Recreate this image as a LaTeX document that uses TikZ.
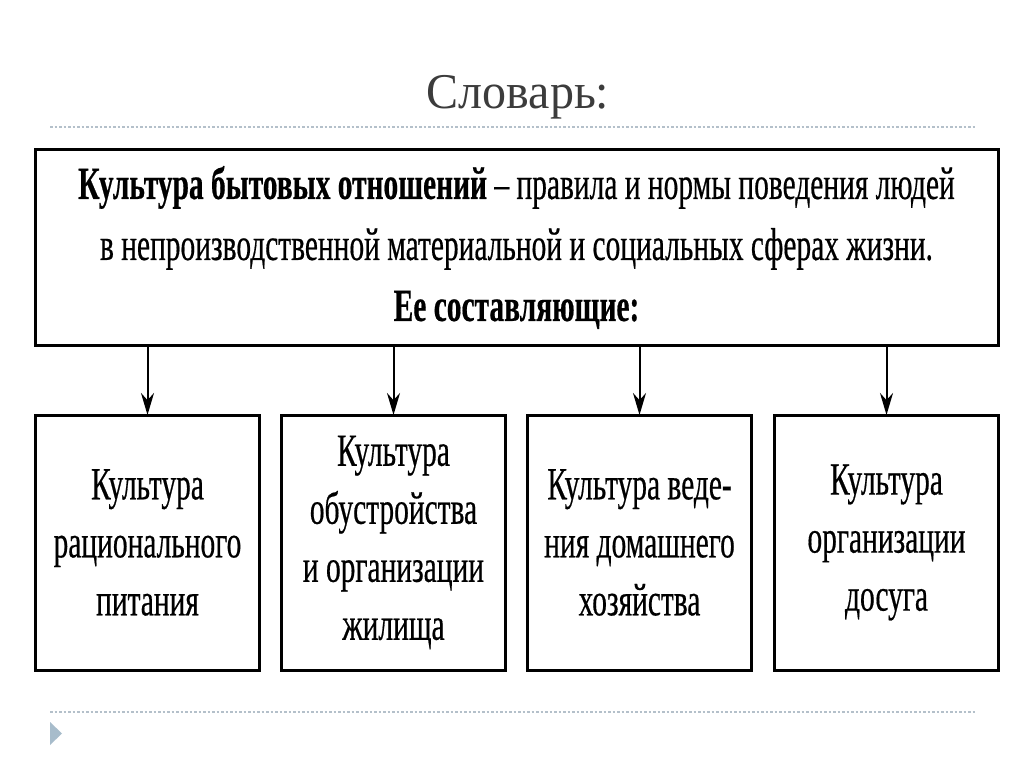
\documentclass[tikz,border=0pt]{standalone}
\usepackage{fontspec}
\setmainfont{Liberation Serif}
\newfontfamily\narrowfont[FakeStretch=0.64, FakeBold=0.4]{Liberation Serif}
\newfontfamily\titlefont[FakeStretch=0.96]{Liberation Serif}
\usetikzlibrary{arrows.meta}
\definecolor{titlegray}{HTML}{3C3C3C}
\definecolor{rulegray}{HTML}{B4C0CA}
\definecolor{markblue}{HTML}{A7BCCB}
\tikzset{
  flowarrow/.style={-{Stealth[length=22pt, width=13pt]}, line width=2pt},
  defbox/.style={draw, line width=3pt, outer sep=0pt, inner sep=0pt, align=center, minimum width=963pt, minimum height=195pt, font=\narrowfont\fontsize{46}{61}\selectfont},
  partbox/.style={draw, line width=3pt, outer sep=0pt, inner sep=0pt, align=center, minimum width=224pt, minimum height=255pt, font=\narrowfont\fontsize{46}{58}\selectfont},
  sepline/.style={rulegray, line width=1.2pt, dash pattern=on 2.5pt off 2pt}
}
\begin{document}
\begin{tikzpicture}[x=1pt, y=-1pt]
  \useasboundingbox[fill=white] (0,0) rectangle (1024,767);
  \node[font=\titlefont\fontsize{50}{60}\selectfont, text=titlegray] (title) at (518,97) {Словарь:};
  \draw[sepline] (50,127) -- (975,127);
  \node[defbox] (defn) at (516.5,247.5) {\raisebox{-10pt}{\parbox{940pt}{\centering
    {\bfseries Культура бытовых отношений} – правила и нормы поведения людей\\
    в непроизводственной материальной и социальных сферах жизни.\\
    {\bfseries Ее составляющие:}}}};
  \node[partbox] (food) at (147.5,542.5) {Культура\\рационального\\питания};
  \node[partbox] (home) at (393.5,542.5) {Культура\\обустройства\\и организации\\жилища};
  \node[partbox] (house) at (639.5,542.5) {Культура веде-\\ния домашнего\\хозяйства};
  \node[partbox] (leisure) at (886.5,542.5) {Культура\\организации\\досуга};
  \foreach \b in {food,home,house,leisure}
    \draw[flowarrow] (defn.south -| \b.north) -- (\b.north);
  \draw[sepline] (50,712) -- (975,712);
  \fill[markblue] (50,722) -- (62,733.5) -- (50,745) -- cycle;
\end{tikzpicture}
\end{document}
